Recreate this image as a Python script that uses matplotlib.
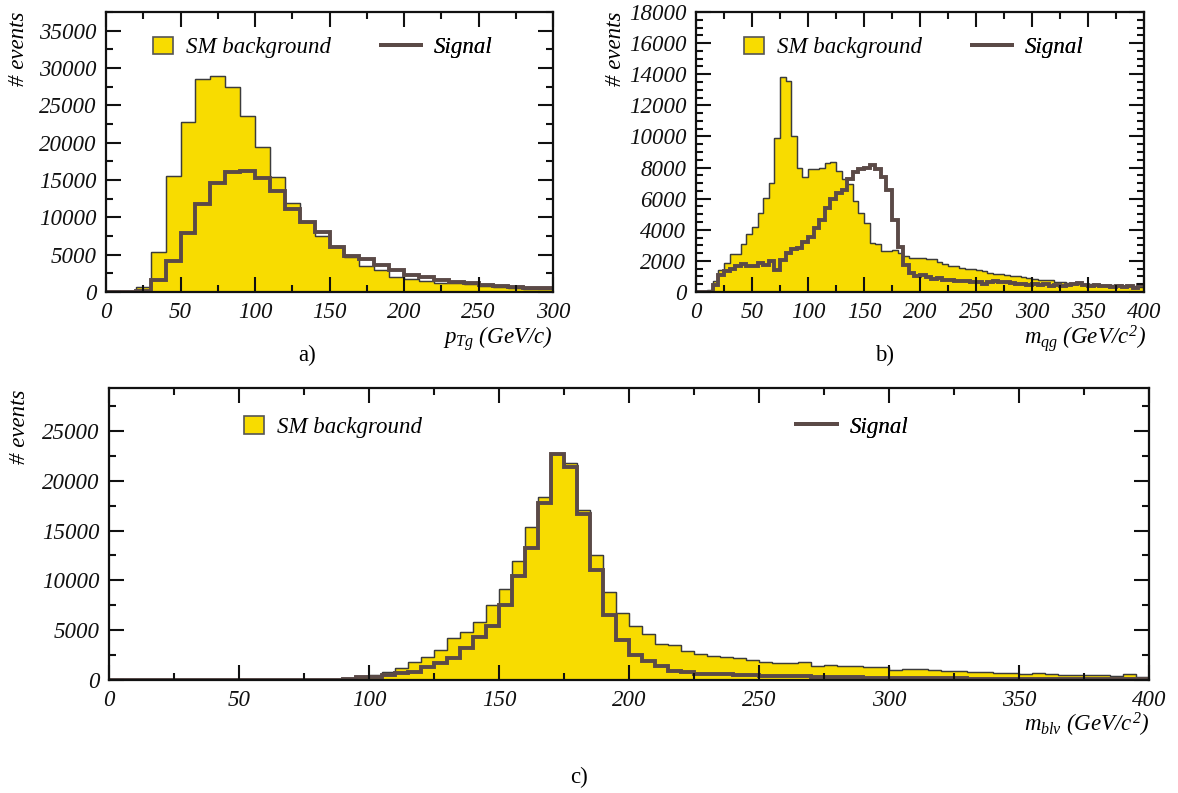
import numpy as np
import matplotlib
matplotlib.use("Agg")
import matplotlib.pyplot as plt
from matplotlib.patches import Patch
from matplotlib.lines import Line2D
from matplotlib.ticker import MultipleLocator

plt.rcParams['font.family'] = ['Liberation Serif', 'DejaVu Serif']
plt.rcParams['font.style'] = 'italic'
plt.rcParams['mathtext.fontset'] = 'custom'
plt.rcParams['mathtext.it'] = 'Liberation Serif:italic'
plt.rcParams['mathtext.rm'] = 'Liberation Serif:italic'

FS = 16.5
YELLOW = '#f8dc00'
SIGCOL = '#5b4a47'
EDGE = '#3c3c3c'
SIG_LW = 2.8

# a) pT of the gluon, 10 GeV bins from 0 to 300
width_a = 10
bg_a = [0, 0, 630, 5360, 15500, 22700, 28500, 28900, 27400, 23600,
        19400, 15350, 11950, 9350, 7500, 6100, 4750, 3450, 2950, 2000,
        1750, 1450, 1200, 1150, 1050, 750, 650, 550, 450, 430]
sig_a = [0, 0, 100, 1550, 4100, 7850, 11800, 14550, 16100, 16200,
         15300, 13550, 11050, 9400, 8000, 6000, 4850, 4400, 3650, 2900,
         2300, 1950, 1550, 1400, 1200, 900, 750, 650, 580, 560]

# b) m_qg, 5 GeV bins from 0 to 400
width_b = 5
bg_b = [0, 0, 100, 700, 1390, 1890, 2420, 2420, 3060, 3700,
        4200, 5060, 6060, 7030, 9920, 13840, 13570, 10030, 7990, 7410,
        7890, 7930, 7990, 8270, 8360, 7780, 7240, 6920, 5850, 5100,
        4410, 3170, 3110, 2650, 2650, 2700, 2530, 2310, 2210, 2210,
        2200, 2100, 2150, 1950, 1800, 1700, 1650, 1550, 1500, 1450,
        1400, 1350, 1200, 1180, 1150, 1100, 1050, 1000, 950, 900,
        820, 800, 780, 750, 650, 620, 600, 580, 530, 520,
        500, 480, 450, 440, 430, 420, 400, 380, 370, 350]
sig_b = [0, 0, 0, 470, 1100, 1320, 1470, 1640, 1790, 1700,
         1700, 1850, 1750, 2000, 1430, 2070, 2500, 2750, 2810, 3240,
         3560, 4140, 4630, 5370, 5950, 6380, 6550, 7290, 7720, 7930,
         7970, 8190, 7930, 7400, 6550, 4630, 2920, 1750, 1220, 1040,
         1110, 960, 830, 900, 790, 750, 720, 680, 680, 640,
         620, 530, 620, 680, 660, 620, 580, 510, 530, 430,
         530, 470, 510, 400, 470, 360, 470, 530, 580, 470,
         400, 430, 360, 400, 320, 360, 320, 360, 260, 430]

# c) m_blv, 5 GeV bins from 0 to 400
width_c = 5
bg_c = [0] * 18 + [
    100, 270, 500, 770, 1170, 1760, 2260, 3030, 4190, 4830,
    5860, 7560, 9120, 11980, 15350, 18340, 22670, 21800, 17080, 12580,
    8850, 6760, 5430, 4590, 3660, 3560, 2930, 2600, 2430, 2260,
    2160, 2000, 1830, 1700, 1660, 1830, 1430, 1500, 1430, 1360,
    1260, 1260, 1030, 1100, 1100, 1030, 870, 870, 830, 770,
    670, 670, 600, 670, 600, 530, 530, 500, 500, 430, 570, 330]
sig_c = [0] * 18 + [
    150, 300, 330, 500, 670, 830, 1260, 1700, 2160, 3200,
    4360, 5430, 7490, 10420, 13250, 17740, 22670, 21340, 16640, 10990,
    6490, 4000, 2500, 1930, 1360, 930, 830, 630, 600, 630,
    500, 500, 430, 430, 400, 400, 330, 330, 270, 270,
    250, 230, 200, 200, 190, 180, 170, 160, 150, 150,
    140, 130, 130, 120, 110, 110, 100, 100, 90, 90, 80, 80]


def style_axes(ax, xmax, ymax, ymajor, yminor):
    ax.set_xlim(0, xmax)
    ax.set_ylim(0, ymax)
    ax.xaxis.set_major_locator(MultipleLocator(50))
    ax.xaxis.set_minor_locator(MultipleLocator(25))
    ax.yaxis.set_major_locator(MultipleLocator(ymajor))
    ax.yaxis.set_minor_locator(MultipleLocator(yminor))
    ax.tick_params(which='both', direction='in', top=True, right=True,
                   width=1.5, colors='#111111', labelsize=FS)
    ax.tick_params(which='major', length=11)
    ax.tick_params(which='minor', length=5)
    ax.tick_params(axis='x', pad=7)
    ax.tick_params(axis='y', pad=7)
    for s in ax.spines.values():
        s.set_linewidth(1.6)
        s.set_color('#111111')


def draw_hists(ax, bg, sig, width):
    edges = np.arange(len(bg) + 1) * width
    ax.stairs(bg, edges, fill=True, facecolor=YELLOW, edgecolor=EDGE,
              linewidth=0.9, baseline=0)
    ax.stairs(bg, edges, color=EDGE, linewidth=0.9, baseline=None)
    ax.stairs(sig, edges, color=SIGCOL, linewidth=SIG_LW, baseline=None)


def add_key(ax, handle, label, x, y, hlen, pad):
    leg = ax.legend([handle], [label], loc='center left', bbox_to_anchor=(x, y),
                    frameon=False, borderpad=0, borderaxespad=0,
                    handlelength=hlen, handleheight=0.8, handletextpad=pad,
                    fontsize=FS)
    ax.add_artist(leg)


def add_keys(ax, xbox, xline, y):
    box = Patch(facecolor=YELLOW, edgecolor='#555555', linewidth=1.2)
    line = Line2D([], [], color=SIGCOL, linewidth=SIG_LW)
    add_key(ax, box, 'SM background', xbox, y, 0.87, 0.57)
    add_key(ax, line, 'Signal', xline, y, 1.75, 0.57)


fig = plt.figure(figsize=(11.78, 7.93), dpi=100)

ax_a = fig.add_axes([0.0900, 0.6318, 0.3795, 0.3531])
ax_b = fig.add_axes([0.5908, 0.6318, 0.3803, 0.3531])
ax_c = fig.add_axes([0.0925, 0.1425, 0.8829, 0.3682])

draw_hists(ax_a, bg_a, sig_a, width_a)
style_axes(ax_a, 300, 37500, 5000, 2500)
add_keys(ax_a, 0.105, 0.615, 0.873)
ax_a.text(-0.196, 1.0, '# events', rotation=90, ha='center', va='top',
          fontsize=FS, transform=ax_a.transAxes)
ax_a.text(1.0, -0.186, r'$p_{Tg}$ (GeV/c)', ha='right', va='baseline',
          fontsize=FS, transform=ax_a.transAxes)

draw_hists(ax_b, bg_b, sig_b, width_b)
style_axes(ax_b, 400, 18000, 2000, 500)
add_keys(ax_b, 0.107, 0.616, 0.873)
ax_b.text(-0.179, 1.0, '# events', rotation=90, ha='center', va='top',
          fontsize=FS, transform=ax_b.transAxes)
ax_b.text(1.004, -0.186, r'$m_{qg}$ (GeV/$c^2$)', ha='right', va='baseline',
          fontsize=FS, transform=ax_b.transAxes)

draw_hists(ax_c, bg_c, sig_c, width_c)
style_axes(ax_c, 400, 29300, 5000, 2500)
add_keys(ax_c, 0.130, 0.661, 0.867)
ax_c.text(-0.0865, 0.993, '# events', rotation=90, ha='center', va='top',
          fontsize=FS, transform=ax_c.transAxes)
ax_c.text(1.0, -0.177, r'$m_{bl\nu}$ (GeV/$c^2$)', ha='right', va='baseline',
          fontsize=FS, transform=ax_c.transAxes)

fig.text(307 / 1178, 1 - 355 / 793, 'a)', ha='center', va='center',
         fontsize=FS, fontstyle='normal')
fig.text(885 / 1178, 1 - 355 / 793, 'b)', ha='center', va='center',
         fontsize=FS, fontstyle='normal')
fig.text(579 / 1178, 1 - 777 / 793, 'c)', ha='center', va='center',
         fontsize=FS, fontstyle='normal')

fig.savefig('out.png', dpi=100)
